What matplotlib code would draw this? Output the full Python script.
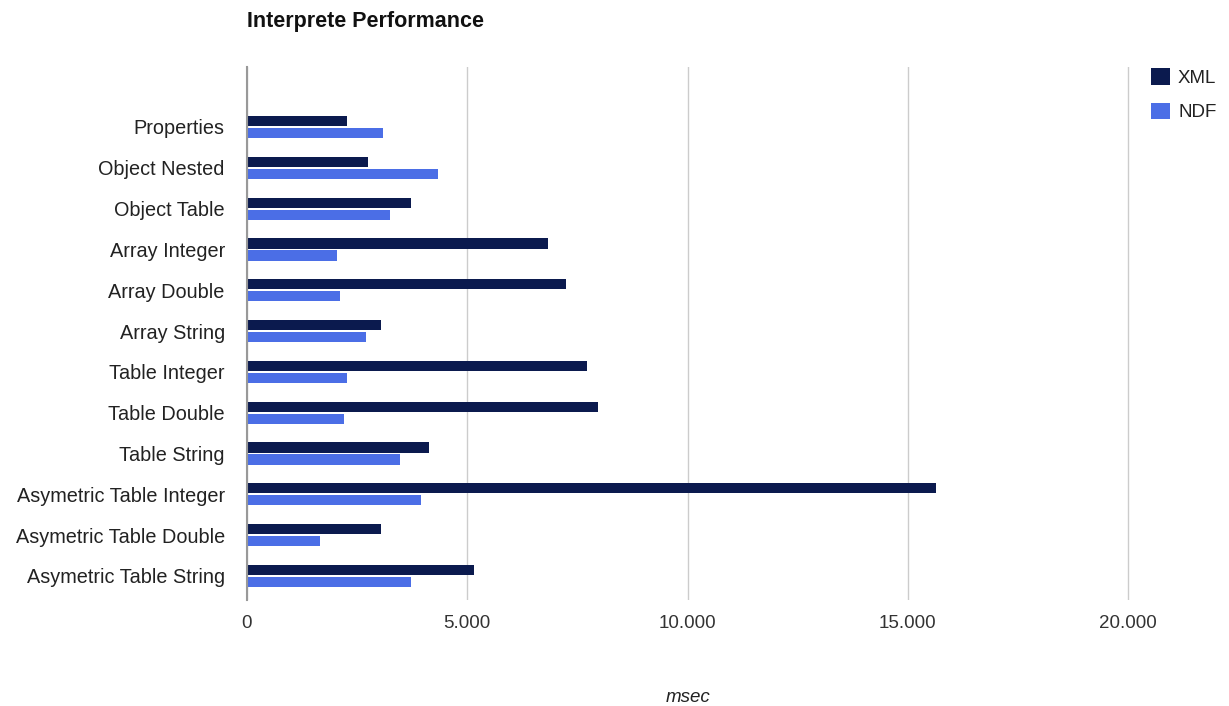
import matplotlib.pyplot as plt
import numpy as np

plt.rcParams['font.family'] = ['Liberation Sans', 'DejaVu Sans']

categories = ["Properties", "Object Nested", "Object Table", "Array Integer",
              "Array Double", "Array String", "Table Integer", "Table Double",
              "Table String", "Asymetric Table Integer", "Asymetric Table Double",
              "Asymetric Table String"]
xml_values = [2277, 2754, 3722, 6839, 7240, 3041, 7724, 7959, 4123, 15638, 3041, 5152]
ndf_values = [3094, 4335, 3246, 2035, 2104, 2694, 2277, 2209, 3473, 3949, 1664, 3722]
x_ticks = [0, 5000, 10000, 15000, 20000]
x_tick_labels = ["0", "5.000", "10.000", "15.000", "20.000"]

xml_color = "#0b1a4e"
ndf_color = "#4b6ee6"

fig = plt.figure(figsize=(12.29, 7.06), dpi=100)
ax = fig.add_axes([247 / 1229, 1 - 600 / 706, (1130 - 247) / 1229, (600 - 67) / 706])

y = np.arange(len(categories))
h = 0.25
ax.barh(y - 0.147, xml_values, height=h, color=xml_color, label="XML", zorder=3)
ax.barh(y + 0.147, ndf_values, height=h, color=ndf_color, label="NDF", zorder=3)

ax.set_xlim(0, 20045)
ax.set_ylim(11.59, -1.47)
ax.set_xticks(x_ticks)
ax.set_xticklabels(x_tick_labels, fontsize=13.5, color="#333333")
ax.set_yticks(y)
ax.set_yticklabels(categories, fontsize=14.3, color="#222222")
ax.tick_params(axis="both", length=0)
ax.tick_params(axis="x", pad=11)
ax.tick_params(axis="y", pad=16)

ax.grid(axis="x", color="#cccccc", linewidth=1, zorder=0)
for s in ["top", "right", "bottom"]:
    ax.spines[s].set_visible(False)
ax.spines["left"].set_color("#999999")
ax.spines["left"].set_linewidth(1.5)
ax.spines["left"].set_zorder(4)

fig.text(688 / 1229, 1 - 697 / 706, "msec", fontsize=13.5, style="italic",
         color="#222222", ha="center", va="center")

fig.text(247 / 1229, 1 - 21 / 706, "Interprete Performance", fontsize=15.5,
         fontweight="bold", color="#111111", va="center", ha="left")

leg = fig.legend(loc="upper left", bbox_to_anchor=(1134 / 1229, 1 - 51 / 706),
                 frameon=False, fontsize=13.5, handlelength=1.0, handleheight=1.0,
                 handletextpad=0.45, labelspacing=0.85)
for t in leg.get_texts():
    t.set_color("#222222")

fig.savefig("out.png", dpi=100)
